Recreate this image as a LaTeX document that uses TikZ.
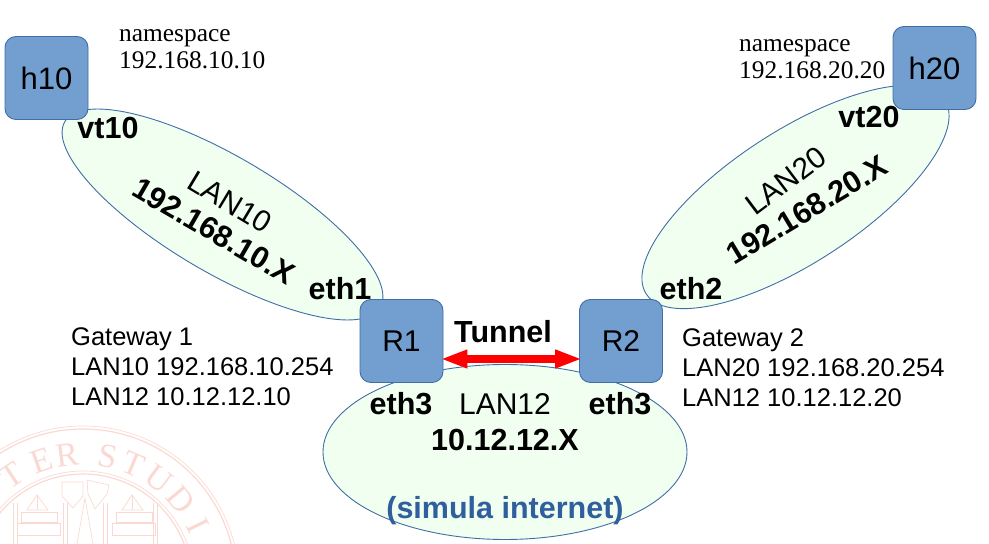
\documentclass[tikz,border=0pt]{standalone}
\usepackage{fontspec}
\setmainfont{Liberation Sans}
\newfontfamily\serifpart{Liberation Serif}
\usetikzlibrary{positioning}
\usetikzlibrary{calc}
\usetikzlibrary{shapes.geometric}
\usetikzlibrary{arrows.meta}

\definecolor{boxblue}{HTML}{729FCF}
\definecolor{boxedge}{HTML}{3F6FA5}
\definecolor{langreen}{HTML}{F0FFF0}
\definecolor{sealred}{HTML}{FBD9D3}
\definecolor{inetblue}{HTML}{2F5F9C}

\begin{document}
\begin{tikzpicture}[x=1pt,y=1pt,
                main node/.style={rectangle,rounded corners=11pt,draw=boxedge,fill=boxblue,line width=0.9pt,
                  minimum size=83pt,inner sep=0pt,font=\fontsize{30}{32}\selectfont},
                lan node/.style={ellipse,draw=boxedge,fill=langreen,line width=0.9pt,inner sep=0pt},
                port/.style={font=\fontsize{30.5}{32}\selectfont\bfseries},
                lan name/.style={font=\fontsize{30}{32}\selectfont},
                info/.style={anchor=west,align=left,inner sep=0pt,font=\fontsize{25.5}{30}\selectfont},
                ns/.style={anchor=west,align=left,inner sep=0pt,font=\fontsize{25.4}{27}\selectfont\serifpart},
                seal/.style={draw=sealred,line width=0.7pt}]

  \useasboundingbox (0,0) rectangle (989,544);

  % watermark
  \begin{scope}
    \clip (0,0) rectangle (989,544);
    \draw[seal] (83,-38) circle (156);
    \draw[seal,line width=1.2pt] (83,-38) circle (153);
    \draw[seal] (83,-38) circle (111);
    \draw[seal,line width=1.2pt] (83,-38) circle (108);
    \foreach \ang/\letter in {124/T,109/E,97/R,79/S,67/T,53.5/U,40/D,26/I}
      \node[text=sealred,rotate=\ang-90,font=\fontsize{34}{34}\selectfont\serifpart] at ($(83,-38)+(\ang:128)$) {\letter};
    \foreach \dx in {0,95} {
      \draw[seal] (27+\dx,34) -- (37+\dx,49) -- (48+\dx,34) -- cycle;
      \draw[seal] (37+\dx,49) -- (37+\dx,34);
      \draw[seal] (21+\dx,22) rectangle (57+\dx,32);
      \draw[seal] (17+\dx,9) rectangle (60+\dx,21);
    }
    \foreach \cx in {13,17,63,67,103,107,153,157}
      \draw[seal] (\cx,0) -- (\cx,41);
    \draw[seal] (77,0) -- (85,46) -- (93,0);
    \draw[seal] (62,62) -- (83,62) -- (83,48) -- (73,36) -- (62,48) -- cycle;
    \draw[seal] (87,64) -- (109,59) -- (107,50) -- (95,35) -- (88,50) -- cycle;
  \end{scope}

  \node[lan node,minimum width=366pt,minimum height=116pt,rotate=-30.5] (lan10) at (222.5,329.5) {};
  \node[lan node,minimum width=356pt,minimum height=132pt,rotate=33] (lan20) at (795.5,347) {};
  \node[lan node,minimum width=364pt,minimum height=175pt] (lan12) at (505,92) {};

  \node[main node,font=\fontsize{31}{32}\selectfont] (h10) at (46.5,466) {h10};
  \node[main node,font=\fontsize{31}{32}\selectfont] (h20) at (934.5,476) {h20};
  \node[main node] (r1) at (401.5,203) {R1};
  \node[main node] (r2) at (621,203) {R2};

  \draw[{Triangle[length=27pt,width=17pt]}-{Triangle[length=27pt,width=17pt]},red,line width=8pt,
    shorten >=-3pt,shorten <=-3pt]
    ([yshift=-18pt]r1.east) -- ([yshift=-18pt]r2.west);

  \node[port] (tunnel) at (503,212) {Tunnel};
  \node[port] (vt10) at (108,416) {vt10};
  \node[port] (vt20) at (869,427) {vt20};
  \node[port] (eth1) at (340,255) {eth1};
  \node[port] (eth2) at (691,255) {eth2};
  \node[port] (eth3a) at (401,140) {eth3};
  \node[port] (eth3b) at (620,140) {eth3};

  \node[lan name,rotate=-31] (name10) at (230,342) {LAN10};
  \node[port,rotate=-30] (net10) at (214,313) {192.168.10.X};
  \node[lan name,rotate=37] (name20) at (786,363) {LAN20};
  \node[port,rotate=31] (net20) at (807,334) {192.168.20.X};
  \node[lan name] (name12) at (505,140) {LAN12};
  \node[port] (net12) at (505,104) {10.12.12.X};
  \node[port,text=inetblue] (inet) at (505,33) {(simula internet)};

  \node[ns] (ns10) at (119,495) {namespace\\192.168.10.10};
  \node[ns] (ns20) at (739,485) {namespace\\192.168.20.20};
  \node[info] (gw1) at (71,177) {Gateway 1\\LAN10 192.168.10.254\\LAN12 10.12.12.10};
  \node[info] (gw2) at (682,176) {Gateway 2\\LAN20 192.168.20.254\\LAN12 10.12.12.20};
\end{tikzpicture}
\end{document}
